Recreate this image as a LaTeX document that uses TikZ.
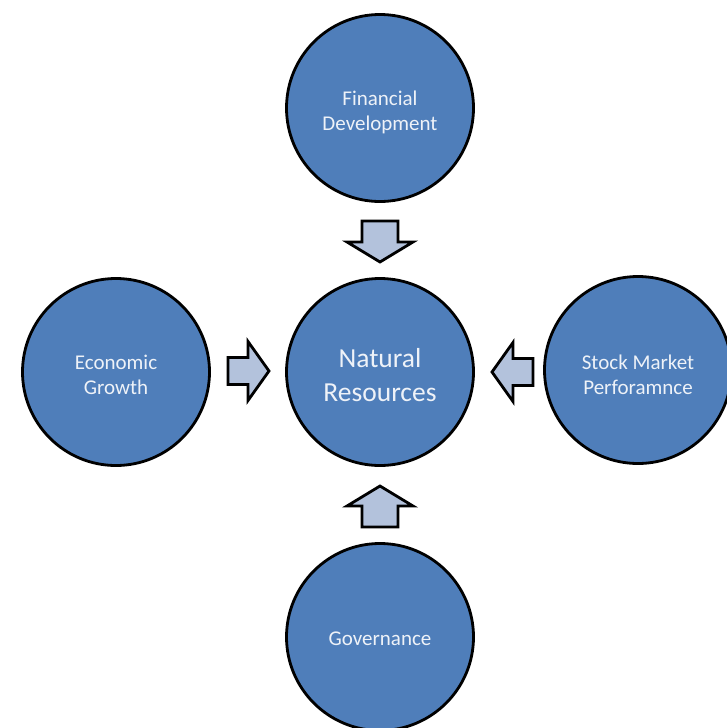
\documentclass[tikz,border=0pt]{standalone}
\usepackage{fontspec}
\setmainfont{Carlito}
\definecolor{circfill}{HTML}{4F7EBA}
\definecolor{circtext}{HTML}{EEF2F8}
\definecolor{arrowfill}{HTML}{B3C2DC}
\tikzset{
  x=1pt, y=-1pt,
  hub/.style={circle, draw=black, line width=2.8pt, fill=circfill,
    minimum size=187pt, inner sep=0pt},
  hubtext/.style={text=circtext, align=center, inner sep=0pt,
    font=\fontsize{21}{25}\selectfont},
  coretext/.style={hubtext, font=\fontsize{27.5}{34}\selectfont},
  arrowbody/.style={draw=black, line width=2.8pt, fill=arrowfill, line join=miter},
  % block arrow drawn from its tail, pointing along +y (downwards)
  varrow/.pic={\draw[arrowbody] (-18,0) -- (-18,21) -- (-33,21) -- (0,41)
      -- (33,21) -- (18,21) -- (18,0) -- cycle;},
  harrow/.pic={\draw[arrowbody] (-13.5,0) -- (-13.5,20) -- (-29.5,20) -- (0,41)
      -- (29.5,20) -- (13.5,20) -- (13.5,0) -- cycle;}
}
\begin{document}
\begin{tikzpicture}
\useasboundingbox (0,0) rectangle (727,728);
\fill[white] (0,0) rectangle (727,728);
\clip (0,0) rectangle (727,728);

% circles
\node[hub] (fin) at (380,108) {};
\node[hub] (nat) at (380,372) {};
\node[hub] (eco) at (116,372) {};
\node[hub] (stk) at (638,370) {};
\node[hub] (gov) at (380,637) {};

% their texts
\node[hubtext, yshift=-4pt]  (fint) at (fin) {Financial\\Development};
\node[coretext, yshift=-3pt] (natt) at (nat) {Natural\\Resources};
\node[hubtext, yshift=-3pt]  (ecot) at (eco) {Economic\\Growth};
\node[hubtext, yshift=-5pt]  (stkt) at (stk) {Stock Market\\Perforamnce};
\node[hubtext, yshift=-2pt]  (govt) at (gov) {Governance};

% block arrows pointing at the centre circle
\pic (afin) at (380,221) {varrow};
\pic[rotate=180] (agov) at (380,527) {varrow};
\pic[rotate=90] (aeco) at (228,371) {harrow};
\pic[rotate=-90] (astk) at (533,372) {harrow};
\end{tikzpicture}
\end{document}
